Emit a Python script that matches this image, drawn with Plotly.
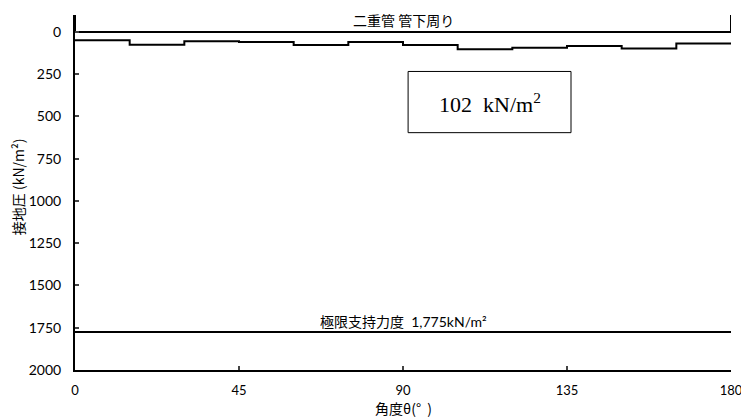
import plotly.graph_objects as go

# Data
angle_edges = [0, 15, 30, 45, 60, 75, 90, 105, 120, 135, 150, 165, 180]
pressure = [50, 76, 56, 60, 78, 60, 78, 102, 94, 84, 98, 68]
ultimate_capacity = 1775
x_ticks = [0, 45, 90, 135, 180]
y_ticks = [0, 250, 500, 750, 1000, 1250, 1500, 1750, 2000]

JP = "Noto Sans CJK JP"
LAT = "Lato, Noto Sans CJK JP"

fig = go.Figure()

# pipe reference bracket (二重管 管下周り)
fig.add_trace(go.Scatter(
    x=[0, 0, 180, 180], y=[-100, 0, 0, -100], mode="lines",
    line=dict(color="black", width=2), hoverinfo="skip", showlegend=False))

# contact pressure step line
fig.add_trace(go.Scatter(
    x=angle_edges, y=pressure + [pressure[-1]], mode="lines",
    line=dict(color="black", width=2, shape="hv"), showlegend=False))

# ultimate bearing capacity line
fig.add_trace(go.Scatter(
    x=[0, 180], y=[ultimate_capacity, ultimate_capacity], mode="lines",
    line=dict(color="black", width=2), showlegend=False))

fig.add_annotation(x=90, y=0, text="二重管 管下周り", showarrow=False,
                   yanchor="bottom", yshift=0, font=dict(family=JP, size=14, color="black"))
fig.add_annotation(x=90, y=ultimate_capacity, text="極限支持力度  1,775kN/m²", showarrow=False,
                   yanchor="bottom", yshift=0, font=dict(family=LAT, size=14, color="black"))

# max value box
fig.add_shape(type="rect", x0=91.4, x1=136.1, y0=234, y1=596,
              line=dict(color="black", width=1), fillcolor="white")
fig.add_annotation(x=113.75, y=418, text=f"{max(pressure)}  kN/m<sup>2</sup>", showarrow=False,
                   font=dict(family="Liberation Serif", size=22, color="black"))

# axis titles
fig.add_annotation(xref="paper", yref="paper", x=0, y=0.515, xshift=-57, textangle=-90,
                   xanchor="center", yanchor="middle",
                   text="接地圧 (kN/m²)", showarrow=False,
                   font=dict(family=JP, size=14, color="black"))
fig.add_annotation(xref="paper", yref="paper", x=0.5, y=0, yshift=-38,
                   xanchor="center", yanchor="middle",
                   text="角度θ(°  )", showarrow=False,
                   font=dict(family=JP, size=14, color="black"))

fig.update_xaxes(range=[0, 180], tickvals=x_ticks, ticks="inside", ticklen=4,
                 tickwidth=1.5, showline=True, linecolor="black", linewidth=2,
                 showgrid=False, zeroline=False, automargin=False,
                 ticklabeloverflow="allow", ticklabelstandoff=7,
                 tickfont=dict(family=LAT, size=13, color="black"))
fig.update_yaxes(range=[2000, -100], tickvals=y_ticks, ticks="inside", ticklen=4,
                 tickwidth=1.5, showline=True, linecolor="black", linewidth=2,
                 showgrid=False, zeroline=False, automargin=False,
                 ticklabelstandoff=9,
                 tickfont=dict(family=LAT, size=14, color="black"))

fig.update_layout(width=741, height=418, margin=dict(l=75, r=10, t=15, b=48),
                  plot_bgcolor="white", paper_bgcolor="white")

fig.write_html("out.html", config={"displayModeBar": False},
               post_script="document.body.style.margin='0';document.body.style.overflow='hidden';")
